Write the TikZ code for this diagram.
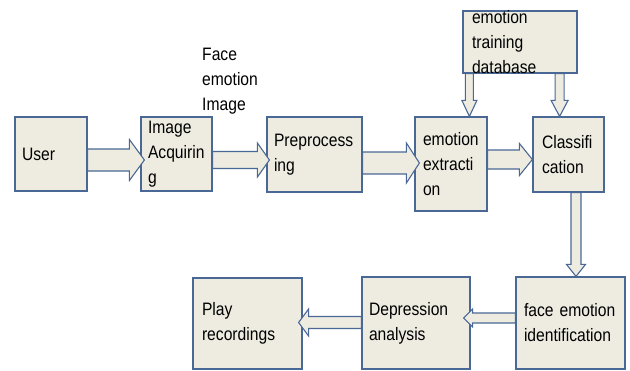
\documentclass[tikz,border=0pt]{standalone}
\usepackage{fontspec}
\setmainfont{Liberation Sans}
\newfontfamily\diagfont[FakeStretch=0.87]{Liberation Sans}
\usepackage{tikz}
\usetikzlibrary{calc}

\definecolor{boxfill}{HTML}{EEECE1}
\definecolor{boxline}{HTML}{4A6895}

\tikzset{
	block/.style={draw=boxline, fill=boxfill, line width=1.2pt, inner sep=0pt},
	blocktext/.style={text width=#1, align=left, inner sep=0pt, font=\diagfont\fontsize{18}{25}\selectfont},
	fatarrow/.style={draw=boxline, fill=boxfill, line width=1.1pt, line join=miter},
}

% block arrow: start, tip, shaft half width, head half width, head length
\newcommand{\fatarrow}[5]{%
	\path (#1) coordinate (fa-s) (#2) coordinate (fa-e);
	\path ($(fa-e)!#5!(fa-s)$) coordinate (fa-h);
	\draw[fatarrow] ($(fa-s)!#3!90:(fa-e)$) -- ($(fa-h)!#3!-90:(fa-s)$)
	  -- ($(fa-h)!#4!-90:(fa-s)$) -- (fa-e) -- ($(fa-h)!#4!90:(fa-s)$)
	  -- ($(fa-h)!#3!90:(fa-s)$) -- ($(fa-s)!#3!-90:(fa-e)$) -- cycle;
}

\begin{document}
\begin{tikzpicture}[x=1pt, y=-1pt]
	\useasboundingbox (0,0) rectangle (630,370);
	% top row
	\node[block, minimum width=72pt, minimum height=74pt, label={[blocktext=58pt]center:User}] (user) at (51,154) {};
	\node[block, minimum width=71pt, minimum height=74pt, label={[blocktext=57pt]center:{Image\\Acquirin\\g}}] (acq) at (176.5,154) {};
	\node[block, minimum width=95pt, minimum height=75pt, label={[blocktext=81pt]center:{Preprocess\\ing}}] (prep) at (314.5,154.5) {};
	\node[block, minimum width=72pt, minimum height=94pt, label={[blocktext=56pt]center:{emotion\\extracti\\on}}] (ext) at (451,164) {};
	\node[block, minimum width=71pt, minimum height=75pt, label={[blocktext=53pt]center:{Classifi\\cation}}] (cls) at (568.5,154.5) {};
	\node[block, minimum width=114pt, minimum height=62pt, label={[blocktext=96pt]center:{emotion\\training\\database}}] (db) at (520,42) {};
	\node[blocktext=80pt, anchor=west] (facelbl) at (202,81) {Face\\emotion\\Image};
	% bottom row
	\node[block, minimum width=109pt, minimum height=91pt, label={[blocktext=91pt]center:{Play\\recordings}}] (play) at (247.5,323.5) {};
	\node[block, minimum width=108pt, minimum height=92pt, label={[blocktext=94pt]center:{Depression\\analysis}}] (dep) at (416,323) {};
	\node[block, minimum width=109pt, minimum height=92pt, label={[blocktext=93pt]center:{face emotion\\identification}}] (fei) at (570.5,323) {};
	% block arrows
	\fatarrow{$(user.east)+(0,6)$}{$(acq.west)+(4,6)$}{11pt}{20.5pt}{15pt}
	\fatarrow{$(acq.east)+(0,6)$}{$(prep.west)+(3,5.5)$}{8.5pt}{17pt}{12pt}
	\fatarrow{$(prep.east)+(0,8.5)$}{$(ext.west)+(5,-1)$}{11pt}{20pt}{13pt}
	\fatarrow{$(ext.east)+(0,-4.5)$}{$(cls.west)+(0,5)$}{9.5pt}{16pt}{13pt}
	\coordinate (dbl) at ($(db.south west)+(7,0)$);
	\coordinate (dbr) at ($(db.south east)+(-18,0)$);
	\fatarrow{dbl}{dbl |- ext.north}{4pt}{7.5pt}{16pt}
	\fatarrow{dbr}{dbr |- cls.north}{4.5pt}{8.5pt}{16pt}
	\fatarrow{$(cls.south)+(7.5,0)$}{$(fei.north)+(5.5,0)$}{5pt}{9.5pt}{12pt}
	\fatarrow{$(fei.west)+(0,-5)$}{$(dep.east)+(-7,-5)$}{5pt}{9pt}{9pt}
	\fatarrow{$(dep.west)+(0,-0.5)$}{$(play.east)+(-4,-1)$}{6pt}{13.5pt}{10pt}
\end{tikzpicture}
\end{document}
